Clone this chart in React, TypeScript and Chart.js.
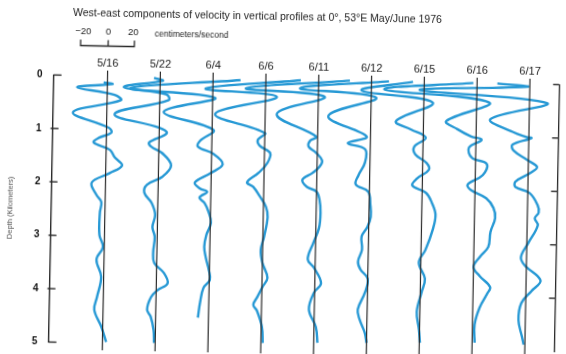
import React, { useEffect, useRef } from 'react';
import { Chart, registerables } from 'chart.js';

Chart.register(...registerables);

// ---------- text ----------
const TITLE = 'West-east components of velocity in vertical profiles at 0°, 53°E May/June 1976';
const UNIT_LABEL = 'centimeters/second';
const SCALE_TICKS = [-20, 0, 20];
const DEPTH_TICKS = [0, 1, 2, 3, 4, 5];
const Y_TITLE = 'Depth (Kilometers)';
const DATES = ['5/16', '5/22', '6/4', '6/6', '6/11', '6/12', '6/15', '6/16', '6/17'];

// ---------- data: depth (km) and west-east velocity (cm/s) ----------
const depth0516 = [0.12, 0.15, 0.22, 0.35, 0.45, 0.69, 0.97, 1.06, 1.16, 1.25, 1.38, 1.52, 1.67, 1.82, 2.0, 2.23, 2.36, 2.56, 2.98, 3.2, 3.44, 3.76, 4.14, 4.38, 4.7, 4.98];
const vel0516 = [-3, 4, -24, 6, 11, -27, 2, 4, -6, -10, 3, 7, 13, 3, -11, -7, -3, -4, -4, -1, -6, -2, -5, -7, -1, 3];

const depth0522 = [0.02, 0.07, 0.2, 0.32, 0.43, 0.71, 0.95, 1.05, 1.23, 1.31, 1.42, 1.65, 1.87, 2.02, 2.17, 2.36, 2.58, 2.81, 2.99, 3.29, 3.48, 3.67, 3.86, 3.99, 4.12, 4.36, 4.49, 4.74, 4.98];
const vel0522 = [-5, 2, -29, 5, 7, -36, 0, 6, -8, -6, 2.5, 10, 3, -9, -11, -5, -2, -4, -2, -3, -2, 6, 9, 1, -4, -7, -4, -1.5, -1];

const depth0604 = [0.03, 0.22, 0.37, 0.65, 0.97, 1.18, 1.29, 1.42, 1.61, 1.78, 1.96, 2.07, 2.13, 2.24, 2.34, 2.51, 2.71, 2.94, 3.16, 3.37, 3.59, 3.78, 3.93, 4.21, 4.49];
const vel0604 = [22, -66, 2, -39, 1, -9.5, -11, 1.5, 9, -0.5, -13, -9, -3, -9, -5, -1.5, 0.5, -3, -4.5, -3, -0.5, 0.5, -4.5, -7, -8.5];

const depth0606 = [0.01, 0.2, 0.33, 0.67, 1.01, 1.14, 1.25, 1.38, 1.57, 1.76, 1.94, 2.02, 2.2, 2.39, 2.58, 2.95, 3.2, 3.44, 3.72, 3.89, 4.08, 4.23, 4.34, 4.64, 4.94];
const vel0606 = [28, -48, 9, -40, 0, -5.5, -4, 4.5, 2.5, -4.5, -13.5, -8.5, -3, 2, 3.5, 1, -1.5, 0, 4.3, 0.5, -3.5, -6.6, -3.6, 0.6, 1.5];

const depth0611 = [0.0, 0.18, 0.31, 0.65, 1.06, 1.14, 1.25, 1.36, 1.51, 1.62, 1.74, 1.87, 2.0, 2.09, 2.24, 2.48, 2.77, 3.05, 3.36, 3.51, 3.8, 3.98, 4.3, 4.62, 4.92];
const vel0611 = [25, -58, 5, -33, -1, -6, -7, -1, 4, 2, -3.5, -11.5, -8, 0, 2.5, 3.5, 2.5, -1.8, -6, -1, 5, -0.5, -4.3, 1.5, 3];

const depth0612 = [0.0, 0.16, 0.31, 0.67, 1.04, 1.17, 1.28, 1.53, 1.77, 1.94, 2.07, 2.31, 2.54, 2.73, 2.91, 3.16, 3.38, 3.53, 3.7, 3.96, 4.28, 4.47, 4.71, 4.9];
const vel0612 = [14, -57, 4, -34, -3, -18, -4, -4, -9, -11, -1, 1, 1.5, -1, -5.5, -5, -8, -6, 0, -2, -7.5, -5.8, -1.6, 0];

const depth0615 = [0.0, 0.18, 0.38, 0.74, 0.89, 1.04, 1.21, 1.36, 1.51, 1.64, 1.81, 1.94, 2.07, 2.26, 2.48, 2.76, 3.14, 3.38, 3.68, 3.94, 4.3, 4.63, 4.88];
const vel0615 = [-9, -50, 7, -22, -10, 2, -7, -6, 3, 5, -4.5, -8, 3, 8, 11, 9, 3.5, -1.6, 3.5, 1, -2.5, -0.5, 0.5];

const depth0616 = [0.0, 0.15, 0.36, 0.72, 0.87, 1.0, 1.06, 1.21, 1.4, 1.51, 1.72, 1.9, 2.0, 2.15, 2.33, 2.52, 2.78, 3.06, 3.25, 3.44, 3.61, 3.81, 3.93, 4.2, 4.52, 4.86];
const vel0616 = [-3, -74, 10, -24, -15, -4, 4.5, -5.5, -3, 9, 6, -6, -3.5, 9, 15, 16.5, 13, 11.5, 5, 0, 5, 13.5, 11.5, 5.5, 1.7, 2];

const depth0617 = [0.0, 0.05, 0.15, 0.35, 0.67, 0.9, 0.99, 1.01, 1.14, 1.25, 1.42, 1.55, 1.66, 1.83, 1.93, 2.04, 2.26, 2.4, 2.51, 2.64, 2.98, 3.24, 3.39, 3.67, 3.87, 4.1, 4.42, 4.73, 4.88];
const vel0617 = [-26, -2, -88, 14, -31, -13, -2, 2, -13, -12, -1, 7, 2, -10, -10, 1.5, 8, 9, 6, 8.5, 1, -4.5, -1.5, 11.5, 4.5, -3.5, -5.5, -2.5, -1];

const PROFILES: [number[], number[]][] = [
  [depth0516, vel0516],
  [depth0522, vel0522],
  [depth0604, vel0604],
  [depth0606, vel0606],
  [depth0611, vel0611],
  [depth0612, vel0612],
  [depth0615, vel0615],
  [depth0616, vel0616],
  [depth0617, vel0617],
];

// ---------- layout constants ----------
const SPACING = 42.25; // cm/s between successive profile baselines
const X_MIN = -43.2;
const X_MAX = 361.4;
const CURVE = '#2799d5';
const INK = '#2a2a2a';
const FONT = "'Liberation Sans', Arial, Helvetica, sans-serif";

const decor = {
  id: 'decor',
  afterDatasetsDraw(chart: any) {
    const { ctx, scales } = chart;
    const x = scales.x;
    const y = scales.y;
    const yr = scales.yr;
    ctx.save();
    // profile baselines
    ctx.strokeStyle = INK;
    ctx.lineWidth = 1.2;
    DATES.forEach((_, i) => {
      const px = x.getPixelForValue(i * SPACING);
      ctx.beginPath();
      ctx.moveTo(px, y.getPixelForValue(-0.1));
      ctx.lineTo(px, y.getPixelForValue(5.3));
      ctx.stroke();
    });
    // inward tick marks on the left and right depth axes
    ctx.lineWidth = 1.4;
    const lx = y.right;
    const rx = yr.left;
    DEPTH_TICKS.forEach((d) => {
      const py = y.getPixelForValue(d);
      const end = d === 0 || d === 5;
      ctx.beginPath();
      ctx.moveTo(end ? lx : lx - 2, py);
      ctx.lineTo(lx + (end ? 8 : 6), py);
      ctx.stroke();
      if (d < 5) {
        ctx.beginPath();
        ctx.moveTo(rx, py);
        ctx.lineTo(rx - 6, py);
        ctx.stroke();
      }
    });
    // velocity scale bar
    const by = 49.5;
    ctx.lineWidth = 1.3;
    ctx.beginPath();
    ctx.moveTo(x.getPixelForValue(-22), by - 6);
    ctx.lineTo(x.getPixelForValue(-22), by);
    ctx.lineTo(x.getPixelForValue(21), by);
    ctx.lineTo(x.getPixelForValue(21), by - 6);
    ctx.moveTo(x.getPixelForValue(0), by);
    ctx.lineTo(x.getPixelForValue(0), by - 6);
    ctx.stroke();
    ctx.fillStyle = '#222';
    ctx.font = `9.5px ${FONT}`;
    ctx.textAlign = 'center';
    ctx.textBaseline = 'middle';
    SCALE_TICKS.forEach((t) => {
      ctx.fillText(t < 0 ? '\u2212' + Math.abs(t) : String(t), x.getPixelForValue(t), 35.5);
    });
    ctx.textAlign = 'left';
    ctx.font = `8.5px ${FONT}`;
    ctx.fillText(UNIT_LABEL, 152, 36.5);
    // title
    ctx.font = `10.5px ${FONT}`;
    ctx.fillText(TITLE, 70, 17);
    ctx.restore();
  },
};

export default function App() {
  const ref = useRef<HTMLCanvasElement | null>(null);
  useEffect(() => {
    const canvas = ref.current;
    if (!canvas) return;
    const datasets = PROFILES.map(([dep, vel], i) => ({
      label: DATES[i],
      data: dep.map((d, k) => ({ x: i * SPACING + vel[k], y: d })),
      borderColor: CURVE,
      borderWidth: 2.4,
      pointRadius: 0,
      tension: 0.38,
      fill: false,
      clip: false as any,
      xAxisID: 'x',
      yAxisID: 'y',
    }));
    const chart = new Chart(canvas, {
      type: 'line',
      data: { datasets },
      options: {
        animation: false,
        responsive: false,
        devicePixelRatio: 1,
        events: [],
        layout: { padding: { left: 3, right: 8.7, top: 59.4, bottom: 7.5 } },
        elements: { line: { capBezierPoints: false } },
        plugins: { legend: { display: false }, tooltip: { enabled: false }, title: { display: false } },
        scales: {
          x: {
            type: 'linear',
            position: 'top',
            min: X_MIN,
            max: X_MAX,
            afterFit: (s: any) => { s.height = 20; s.paddingLeft = 0; s.paddingRight = 0; },
            afterBuildTicks: (s: any) => { s.ticks = DATES.map((_, i) => ({ value: i * SPACING })); },
            ticks: {
              autoSkip: false,
              maxRotation: 0,
              padding: 6,
              color: '#222',
              font: { size: 11, family: FONT },
              callback: (_v: any, i: number) => DATES[i],
            },
            grid: { display: false, drawTicks: false },
            border: { display: false },
          },
          y: {
            type: 'linear',
            position: 'left',
            min: 0,
            max: 5,
            reverse: true,
            afterFit: (s: any) => { s.width = 48.6; s.paddingTop = 0; s.paddingBottom = 0; },
            afterBuildTicks: (s: any) => { s.ticks = DEPTH_TICKS.map((v) => ({ value: v })); },
            ticks: { padding: 11, color: '#111', font: { size: 10, weight: 'bold', family: FONT } },
            grid: { display: false, drawTicks: false },
            border: { display: true, color: INK, width: 1.4 },
            title: { display: true, text: Y_TITLE, color: '#555', font: { size: 7.5, family: FONT }, padding: { top: 3, bottom: 0 } },
          },
          yr: {
            type: 'linear',
            position: 'right',
            min: 0,
            max: 5,
            reverse: true,
            afterFit: (s: any) => { s.width = 0; s.paddingTop = 0; s.paddingBottom = 0; },
            ticks: { display: false },
            grid: { display: false, drawTicks: false },
            border: { display: true, color: INK, width: 1.3 },
          },
        },
      },
      plugins: [decor],
    } as any);
    return () => chart.destroy();
  }, []);
  return (
    <div style={{ position: 'absolute', left: 0, top: 0, width: 566, height: 354, overflow: 'hidden', background: '#fff' }}>
      <canvas
        ref={ref}
        width={566}
        height={354}
        style={{ width: 566, height: 354, display: 'block', transform: 'rotate(1.1deg)', transformOrigin: '283px 177px' }}
      />
    </div>
  );
}
